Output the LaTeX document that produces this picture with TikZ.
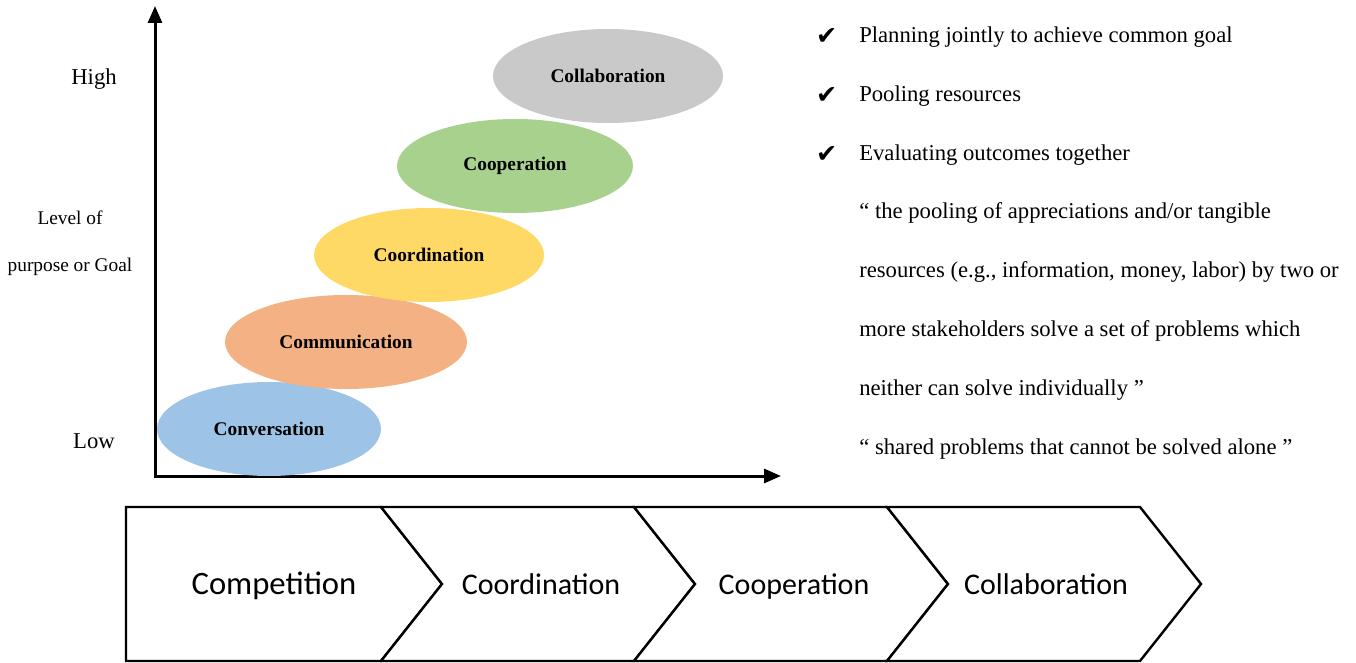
\documentclass[tikz,border=0pt]{standalone}
\usepackage{fontspec}
\setmainfont{Liberation Serif}
\newfontfamily\chevronfont{Carlito}
\newfontfamily\tickfont{DejaVu Sans}
\usetikzlibrary{positioning,shapes.geometric,arrows.meta}

\definecolor{convblue}{HTML}{9DC3E6}
\definecolor{commorange}{HTML}{F4B183}
\definecolor{coordyellow}{HTML}{FFD966}
\definecolor{coopgreen}{HTML}{A9D18E}
\definecolor{collabgrey}{HTML}{C9C9C9}

\tikzset{
  stage/.style={shape=ellipse, inner sep=0pt, minimum width=#1, minimum height=70.5pt,
    font=\fontsize{14.5}{17}\selectfont\bfseries},
  axislabel/.style={font=\fontsize{17}{20}\selectfont},
  listtext/.style={anchor=west, inner sep=0pt, text height=12pt, text depth=4pt,
    font=\fontsize{17}{20}\selectfont},
  tick/.style={inner sep=0pt, font=\tickfont\fontsize{19}{20}\selectfont},
  chevtext/.style={anchor=base, font=\chevronfont\fontsize{#1}{#1}\selectfont},
}

\begin{document}
\begin{tikzpicture}[x=0.75pt, y=-0.75pt, >={Triangle[length=12.75pt,width=10.5pt]}]
    \useasboundingbox (0,0) rectangle (1356,663);

    % axes
    \coordinate (origin) at (155,476);
    \coordinate (ytop) at (155,6);
    \coordinate (xend) at (781,476);
    \draw[<->, line width=2.25pt] (ytop) -- (origin) -- (xend);

    \node[axislabel] (high) at (94,79) {High};
    \node[axislabel] (low) at (94,441) {Low};
    \node[font=\fontsize{14.5}{35}\selectfont, align=center] (level) at (70,243) {Level of\\purpose or Goal};

    % stages, bottom to top
    \node[stage=168pt, fill=convblue] (conversation) at (269,429) {Conversation};
    \node[stage=181.5pt, fill=commorange] (communication) at (346,342) {Communication};
    \node[stage=172.5pt, fill=coordyellow] (coordination) at (429,255) {Coordination};
    \node[stage=177pt, fill=coopgreen] (cooperation) at (515,166) {Cooperation};
    \node[stage=172.5pt, fill=collabgrey] (collaboration) at (608,76) {Collaboration};

    % ticked list
    \foreach \txt [count=\i] in {Planning jointly to achieve common goal, Pooling resources, Evaluating outcomes together} {
        \node[listtext] (item\i) at (859,{37+59*(\i-1)}) {\txt};
        \node[tick, left=16pt of item\i] (tick\i) {✔};
    }
    \node[below=27pt of item3.south west, anchor=north west, inner sep=0pt, align=left,
        font=\fontsize{17}{44.25}\selectfont] (quote) {“ the pooling of appreciations and/or tangible\\
        resources (e.g., information, money, labor) by two or\\
        more stakeholders solve a set of problems which\\
        neither can solve individually ”\\
        “ shared problems that cannot be solved alone ”};

    % chevron row
    \foreach \l/\r/\cx/\sz/\txt [count=\i] in {126/381/274/24.5/Competition, 381/634/541/22.5/Coordination, 634/887/794/22.5/Cooperation, 887/1140/1046/22.5/Collaboration} {
        \pgfmathsetmacro\notch{\i==1 ? 0 : 61}
        \draw[line width=1.8pt, line join=miter, fill=white] (\l,507) -- (\r,507) -- (\r+61,584)
            -- (\r,661) -- (\l,661) -- (\l+\notch,584) -- cycle;
        \node[chevtext=\sz] (chev\i) at (\cx,594) {\txt};
    }
\end{tikzpicture}
\end{document}
